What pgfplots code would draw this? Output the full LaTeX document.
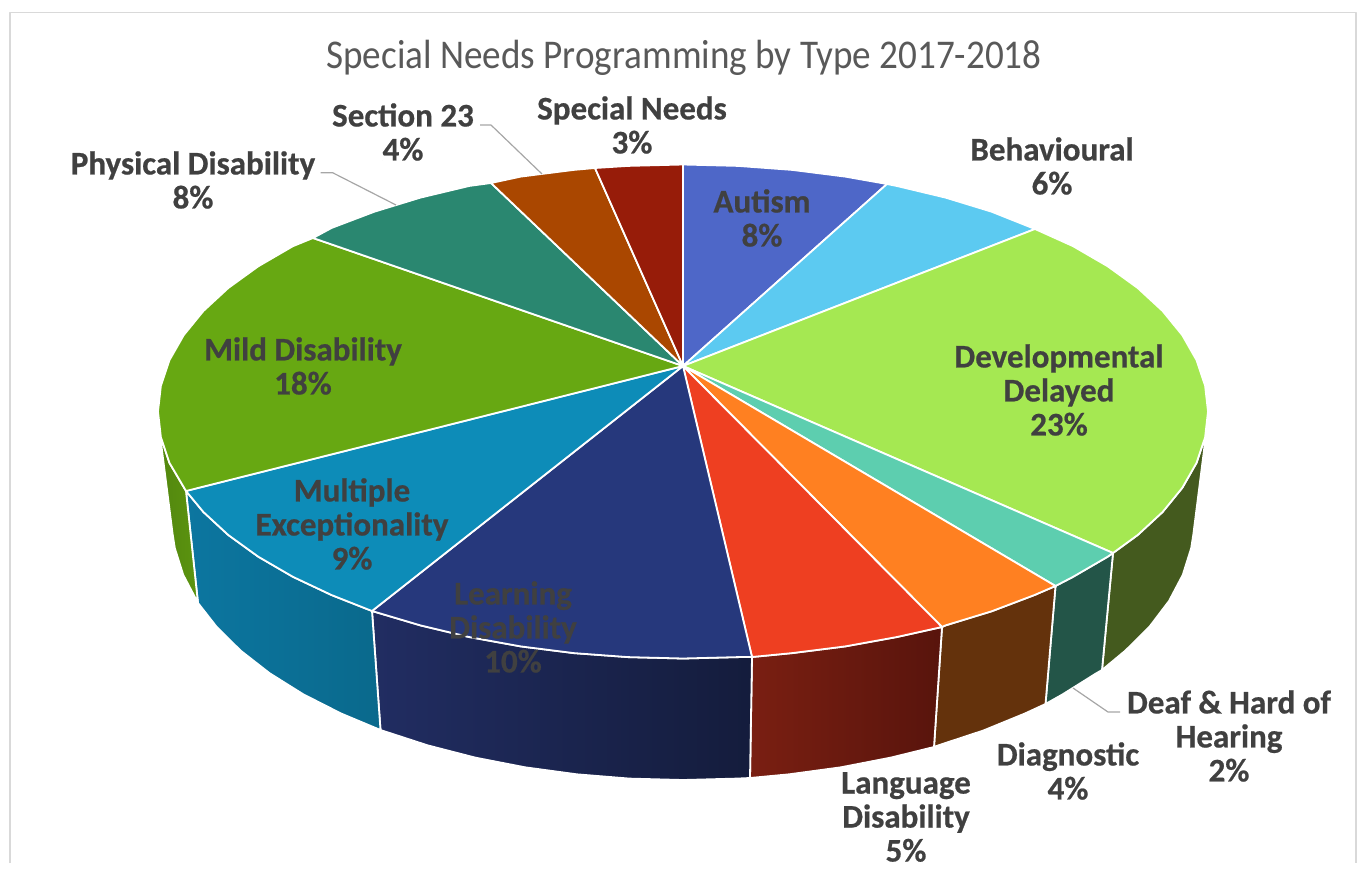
\documentclass[border=0pt]{standalone}
\usepackage{pgfplots}
\pgfplotsset{compat=1.18}
\usepackage{fontspec}
\setmainfont{Carlito}[BoldFeatures={FakeBold=0.6}]
\newfontfamily\ttlfont{Carlito}[FakeStretch=0.91]
\definecolor{lab}{RGB}{64,64,64}
\definecolor{ttl}{RGB}{89,89,89}
\definecolor{autism}{RGB}{78,103,200}
\definecolor{behav}{RGB}{92,202,241}
\definecolor{devel}{RGB}{165,232,82}
\definecolor{deaf}{RGB}{93,206,175}
\definecolor{diag}{RGB}{255,128,33}
\definecolor{lang}{RGB}{238,63,33}
\definecolor{learn}{RGB}{38,56,124}
\definecolor{multi}{RGB}{13,140,184}
\definecolor{mild}{RGB}{103,168,18}
\definecolor{phys}{RGB}{42,135,112}
\definecolor{sect}{RGB}{170,71,0}
\definecolor{spec}{RGB}{151,28,9}
\definecolor{sdevel}{RGB}{68,90,30}
\definecolor{sdeaf}{RGB}{35,85,72}
\definecolor{sdiag}{RGB}{100,50,12}
\definecolor{slangA}{RGB}{122,31,18}
\definecolor{slangB}{RGB}{88,20,12}
\definecolor{slearnA}{RGB}{33,45,98}
\definecolor{slearnB}{RGB}{20,28,60}
\definecolor{smultiA}{RGB}{12,118,160}
\definecolor{smultiB}{RGB}{10,105,140}
\definecolor{smildA}{RGB}{82,135,14}
\definecolor{smildB}{RGB}{92,148,16}
\newcommand{\lbl}[3]{\node[text=lab,font=\fontsize{16.5}{17}\selectfont\bfseries,align=center] at (axis cs:#1,#2) {#3};}
\begin{document}
\begin{tikzpicture}
\begin{axis}[
  scale only axis, width=678.5pt, height=431.5pt,
  xmin=0, xmax=1357, ymin=0, ymax=863, y dir=reverse,
  hide axis, clip=false, no markers,
  every axis plot/.append style={line join=round, line width=0.9pt, draw=white},
]
% page extent of the drawing
\path (axis cs:0,0) rectangle (axis cs:1357,863);
% outer frame of the chart area
\addplot[draw=black!15, line width=0.7pt] coordinates {(10,863) (10,12.5) (1356,12.5) (1356,863)};

% side walls: rim arc, silhouette edge, bottom arc traversed backwards
\addplot[fill=sdevel] coordinates {
 (1113,553)(1137.7,535)(1162.6,512)(1182.3,487.8)(1196.5,462.9)(1205.1,437.3)(1207.3,424.4)
 (1193.3,534.6)(1191.2,548.1)(1182.8,574.8)(1169,601)(1149.8,626.3)(1125.5,650.5)(1102,670)} --cycle;
\addplot[fill=sdeaf] coordinates {
 (1113,553)(1107.7,556.7)(1073.1,576.8)(1055.5,586)
 (1045.5,704)(1062.7,694.3)(1096.4,673.2)(1102,670)} --cycle;
\addplot[fill=sdiag] coordinates {
 (1055.5,586)(1034.3,595.1)(991.6,611.3)(945.5,625.4)(942,627)
 (934,747)(938.5,745.3)(983.4,730.5)(1024.9,713.5)(1045.5,704)} --cycle;
\addplot[left color=slangA, right color=slangB] coordinates {
 (942,627)(896.5,637.1)(845.2,646.4)(792.2,653.1)(752,657)
 (750,778)(789.2,774.3)(840.9,767.3)(890.8,757.6)(934,747)} --cycle;
\addplot[left color=slearnA, right color=slearnB] coordinates {
 (752,657)(737.9,657.1)(683,658.5)(628.1,657.1)(573.8,653.1)(520.8,646.4)(469.5,637.1)(420.5,625.4)(372,611)
 (380.5,730)(427.5,745.3)(475.2,757.6)(525.1,767.3)(576.8,774.3)(629.6,778.6)(683,780)(736.4,778.6)(750,778)} --cycle;
\addplot[left color=smultiA, right color=smultiB] coordinates {
 (372,611)(331.7,595.1)(292.9,576.8)(258.3,556.7)(228.3,535)(203.4,512)(186,491)
 (198,603)(216.2,626.3)(240.5,650.5)(269.6,673.2)(303.3,694.3)(341.1,713.5)(380.5,730)} --cycle;
\addplot[left color=smildA, right color=smildB] coordinates {
 (186,491)(169.5,462.9)(160.9,437.3)(158.7,424.4)
 (172.7,534.6)(174.8,548.1)(183.2,574.8)(198,603)} --cycle;

% top face, one wedge per category, from the apex round the rim
\addplot[fill=autism] coordinates {
 (683,366)(683,164.5)(737.9,165.9)(792.2,169.9)(845.2,176.6)(887,184)} --cycle;
\addplot[fill=behav] coordinates {
 (683,366)(887,184)(896.5,185.9)(945.5,197.6)(991.6,211.7)(1035,229)} --cycle;
\addplot[fill=devel] coordinates {
 (683,366)(1035,229)(1073.1,246.2)(1107.7,266.3)(1137.7,288)(1162.6,311)(1182.3,335.2)(1196.5,360.1)(1205.1,385.7)(1208,411.5)(1205.1,437.3)(1196.5,462.9)(1182.3,487.8)(1162.6,512)(1137.7,535)(1113,553)} --cycle;
\addplot[fill=deaf] coordinates {
 (683,366)(1113,553)(1107.7,556.7)(1073.1,576.8)(1055.5,586)} --cycle;
\addplot[fill=diag] coordinates {
 (683,366)(1055.5,586)(1034.3,595.1)(991.6,611.3)(945.5,625.4)(942,627)} --cycle;
\addplot[fill=lang] coordinates {
 (683,366)(942,627)(896.5,637.1)(845.2,646.4)(792.2,653.1)(752,657)} --cycle;
\addplot[fill=learn] coordinates {
 (683,366)(752,657)(737.9,657.1)(683,658.5)(628.1,657.1)(573.8,653.1)(520.8,646.4)(469.5,637.1)(420.5,625.4)(372,611)} --cycle;
\addplot[fill=multi] coordinates {
 (683,366)(372,611)(331.7,595.1)(292.9,576.8)(258.3,556.7)(228.3,535)(203.4,512)(186,491)} --cycle;
\addplot[fill=mild] coordinates {
 (683,366)(186,491)(169.5,462.9)(160.9,437.3)(158,411.5)(160.9,385.7)(169.5,360.1)(183.7,335.2)(203.4,311)(228.3,288)(258.3,266.3)(292.9,246.2)(313,238)} --cycle;
\addplot[fill=phys] coordinates {
 (683,366)(313,238)(331.7,227.9)(374.4,211.7)(420.5,197.6)(469.5,185.9)(491,183)} --cycle;
\addplot[fill=sect] coordinates {
 (683,366)(491,183)(520.8,176.6)(573.8,169.9)(595,168)} --cycle;
\addplot[fill=spec] coordinates {
 (683,366)(595,168)(628.1,165.9)(683,164.5)} --cycle;

% leader lines
\addplot[draw=black!35, line width=0.6pt] coordinates {(320.5,172.7)(332.6,172.7)(396,205)};
\addplot[draw=black!35, line width=0.6pt] coordinates {(480,125)(491,125)(542,174)};
\addplot[draw=black!35, line width=0.6pt] coordinates {(1073,688)(1108,712)(1120,712)};

\node[text=ttl,font=\ttlfont\fontsize{20.4}{24}\selectfont] at (axis cs:684,58) {Special Needs Programming by Type 2017-2018};

\lbl{762}{218}{Autism\\8\%}
\lbl{1052}{166}{Behavioural\\6\%}
\lbl{1059}{390}{Developmental\\Delayed\\23\%}
\lbl{1229}{736}{Deaf \& Hard of\\Hearing\\2\%}
\lbl{1068}{771}{Diagnostic\\4\%}
\lbl{906}{817}{Language\\Disability\\5\%}
\lbl{513}{627}{Learning\\Disability\\10\%}
\lbl{352}{524}{Multiple\\Exceptionality\\9\%}
\lbl{303}{366}{Mild Disability\\18\%}
\lbl{193}{180}{Physical Disability\\8\%}
\lbl{403}{132}{Section 23\\4\%}
\lbl{632}{125}{Special Needs\\3\%}
\end{axis}
\end{tikzpicture}
\end{document}
